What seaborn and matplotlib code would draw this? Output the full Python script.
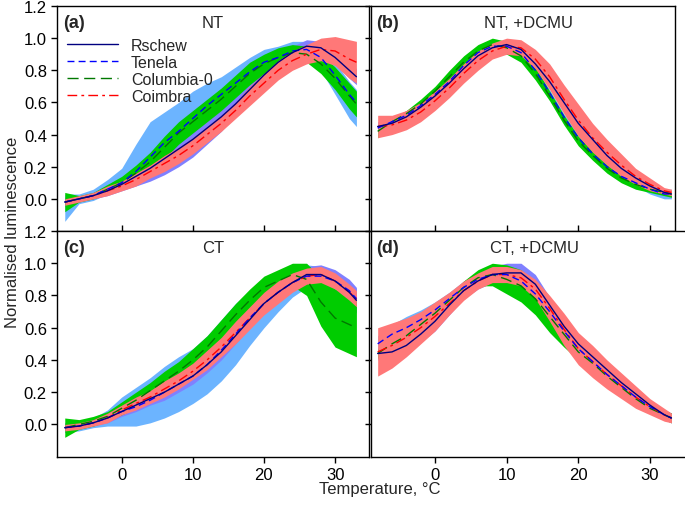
import numpy as np
import pandas as pd
import matplotlib
matplotlib.use("Agg")
import matplotlib.pyplot as plt
from matplotlib.lines import Line2D
import seaborn as sns

temps = [-8, -6, -4, -2, 0, 2, 4, 6, 8, 10, 12, 14, 16, 18, 20, 22, 24, 26, 28, 30, 32, 33]
accessions = ["Rschew", "Tenela", "Columbia-0", "Coimbra"]

# (a) NT
nt_rschew = [-0.02, 0.00, 0.02, 0.05, 0.09, 0.14, 0.19, 0.25, 0.31, 0.37, 0.44, 0.51, 0.59, 0.68, 0.77, 0.85, 0.91, 0.95, 0.94, 0.88, 0.80, 0.76]
nt_rschew_sd = [0.03, 0.02, 0.02, 0.03, 0.04, 0.06, 0.08, 0.10, 0.11, 0.11, 0.10, 0.09, 0.07, 0.06, 0.05, 0.04, 0.04, 0.04, 0.04, 0.04, 0.05, 0.05]
nt_tenela = [-0.02, 0.00, 0.02, 0.06, 0.10, 0.17, 0.26, 0.35, 0.42, 0.50, 0.58, 0.65, 0.72, 0.79, 0.85, 0.88, 0.92, 0.93, 0.88, 0.77, 0.65, 0.60]
nt_tenela_up = [0.05, 0.03, 0.04, 0.06, 0.09, 0.17, 0.22, 0.19, 0.18, 0.17, 0.14, 0.11, 0.10, 0.09, 0.08, 0.07, 0.06, 0.05, 0.07, 0.08, 0.08, 0.08]
nt_tenela_dn = [0.12, 0.03, 0.03, 0.03, 0.04, 0.05, 0.06, 0.07, 0.08, 0.08, 0.08, 0.08, 0.08, 0.07, 0.07, 0.06, 0.06, 0.06, 0.08, 0.12, 0.15, 0.15]
nt_columbia = [-0.02, 0.00, 0.02, 0.06, 0.10, 0.16, 0.23, 0.32, 0.41, 0.48, 0.55, 0.62, 0.70, 0.78, 0.84, 0.88, 0.91, 0.90, 0.84, 0.75, 0.64, 0.59]
nt_columbia_sd = [0.06, 0.02, 0.02, 0.03, 0.04, 0.05, 0.06, 0.07, 0.07, 0.07, 0.07, 0.07, 0.07, 0.07, 0.06, 0.06, 0.05, 0.05, 0.06, 0.07, 0.08, 0.08]
nt_coimbra = [-0.02, 0.00, 0.02, 0.05, 0.08, 0.12, 0.17, 0.22, 0.27, 0.33, 0.40, 0.47, 0.55, 0.64, 0.72, 0.80, 0.86, 0.90, 0.93, 0.92, 0.87, 0.85]
nt_coimbra_sd = [0.02, 0.02, 0.02, 0.03, 0.03, 0.04, 0.04, 0.05, 0.05, 0.05, 0.05, 0.05, 0.05, 0.06, 0.06, 0.06, 0.06, 0.06, 0.07, 0.09, 0.12, 0.13]

# (b) NT, +DCMU
ntd_rschew = [0.45, 0.47, 0.51, 0.57, 0.64, 0.72, 0.81, 0.89, 0.94, 0.96, 0.93, 0.84, 0.73, 0.60, 0.47, 0.37, 0.27, 0.19, 0.13, 0.08, 0.04, 0.03]
ntd_rschew_sd = [0.03, 0.02, 0.02, 0.02, 0.02, 0.02, 0.02, 0.02, 0.02, 0.02, 0.02, 0.02, 0.02, 0.02, 0.02, 0.02, 0.02, 0.02, 0.02, 0.02, 0.02, 0.02]
ntd_tenela = [0.44, 0.48, 0.52, 0.58, 0.65, 0.73, 0.83, 0.91, 0.95, 0.95, 0.91, 0.80, 0.66, 0.51, 0.38, 0.28, 0.20, 0.14, 0.10, 0.06, 0.03, 0.03]
ntd_tenela_sd = [0.03, 0.02, 0.02, 0.02, 0.02, 0.02, 0.02, 0.02, 0.02, 0.02, 0.02, 0.02, 0.02, 0.02, 0.02, 0.02, 0.02, 0.02, 0.02, 0.03, 0.03, 0.03]
ntd_columbia = [0.42, 0.48, 0.53, 0.59, 0.67, 0.76, 0.85, 0.92, 0.96, 0.94, 0.89, 0.78, 0.64, 0.49, 0.36, 0.27, 0.19, 0.13, 0.09, 0.06, 0.04, 0.03]
ntd_columbia_sd = [0.04, 0.02, 0.02, 0.03, 0.03, 0.04, 0.04, 0.04, 0.04, 0.04, 0.04, 0.04, 0.03, 0.03, 0.03, 0.03, 0.03, 0.03, 0.03, 0.02, 0.02, 0.02]
ntd_coimbra = [0.45, 0.46, 0.49, 0.54, 0.61, 0.69, 0.78, 0.86, 0.92, 0.95, 0.94, 0.87, 0.76, 0.62, 0.49, 0.38, 0.29, 0.21, 0.14, 0.09, 0.05, 0.04]
ntd_coimbra_sd = [0.07, 0.06, 0.06, 0.06, 0.06, 0.06, 0.06, 0.06, 0.05, 0.05, 0.05, 0.06, 0.08, 0.09, 0.10, 0.09, 0.08, 0.07, 0.05, 0.04, 0.02, 0.02]

# (c) CT
ct_rschew = [-0.02, -0.01, 0.01, 0.04, 0.08, 0.12, 0.16, 0.20, 0.25, 0.30, 0.37, 0.45, 0.55, 0.65, 0.75, 0.82, 0.88, 0.93, 0.93, 0.89, 0.82, 0.77]
ct_rschew_sd = [0.03, 0.02, 0.02, 0.03, 0.03, 0.04, 0.04, 0.05, 0.05, 0.05, 0.05, 0.05, 0.05, 0.05, 0.05, 0.05, 0.05, 0.05, 0.06, 0.07, 0.08, 0.08]
ct_tenela = [-0.02, -0.01, 0.01, 0.04, 0.08, 0.11, 0.15, 0.20, 0.25, 0.30, 0.37, 0.46, 0.56, 0.66, 0.75, 0.82, 0.88, 0.92, 0.92, 0.89, 0.83, 0.78]
ct_tenela_sd = [0.03, 0.03, 0.03, 0.05, 0.09, 0.12, 0.14, 0.16, 0.17, 0.17, 0.18, 0.19, 0.19, 0.17, 0.15, 0.12, 0.09, 0.07, 0.06, 0.06, 0.06, 0.06]
ct_columbia = [-0.02, 0.00, 0.02, 0.05, 0.10, 0.15, 0.21, 0.27, 0.33, 0.40, 0.48, 0.58, 0.68, 0.77, 0.85, 0.89, 0.93, 0.90, 0.76, 0.66, 0.62, 0.60]
ct_columbia_sd = [0.06, 0.03, 0.03, 0.03, 0.04, 0.05, 0.05, 0.06, 0.06, 0.07, 0.07, 0.07, 0.07, 0.07, 0.07, 0.07, 0.07, 0.10, 0.15, 0.18, 0.18, 0.18]
ct_coimbra = [-0.02, -0.01, 0.01, 0.04, 0.09, 0.13, 0.17, 0.22, 0.27, 0.33, 0.40, 0.48, 0.57, 0.66, 0.75, 0.82, 0.88, 0.92, 0.93, 0.89, 0.82, 0.78]
ct_coimbra_sd = [0.02, 0.02, 0.02, 0.03, 0.03, 0.04, 0.04, 0.05, 0.05, 0.05, 0.06, 0.06, 0.07, 0.07, 0.07, 0.07, 0.06, 0.05, 0.05, 0.05, 0.05, 0.05]

# (d) CT, +DCMU
ctd_rschew = [0.44, 0.45, 0.49, 0.56, 0.64, 0.74, 0.83, 0.89, 0.93, 0.94, 0.94, 0.87, 0.74, 0.61, 0.50, 0.42, 0.34, 0.26, 0.19, 0.12, 0.06, 0.04]
ctd_rschew_sd = [0.04, 0.04, 0.04, 0.05, 0.06, 0.06, 0.05, 0.05, 0.05, 0.06, 0.06, 0.06, 0.05, 0.04, 0.04, 0.04, 0.04, 0.03, 0.03, 0.03, 0.03, 0.03]
ctd_tenela = [0.50, 0.56, 0.60, 0.65, 0.71, 0.78, 0.85, 0.90, 0.93, 0.93, 0.89, 0.81, 0.70, 0.58, 0.47, 0.39, 0.31, 0.24, 0.17, 0.11, 0.06, 0.04]
ctd_tenela_sd = [0.05, 0.06, 0.07, 0.06, 0.05, 0.04, 0.04, 0.04, 0.04, 0.04, 0.04, 0.04, 0.04, 0.04, 0.03, 0.03, 0.03, 0.03, 0.03, 0.03, 0.03, 0.03]
ctd_columbia = [0.44, 0.50, 0.55, 0.62, 0.69, 0.77, 0.85, 0.91, 0.93, 0.90, 0.86, 0.78, 0.67, 0.56, 0.45, 0.38, 0.30, 0.23, 0.16, 0.10, 0.06, 0.04]
ctd_columbia_sd = [0.03, 0.03, 0.03, 0.03, 0.03, 0.03, 0.04, 0.05, 0.07, 0.09, 0.10, 0.10, 0.10, 0.08, 0.05, 0.04, 0.03, 0.03, 0.03, 0.03, 0.03, 0.03]
ctd_coimbra = [0.45, 0.49, 0.54, 0.60, 0.67, 0.75, 0.83, 0.89, 0.93, 0.93, 0.91, 0.84, 0.72, 0.59, 0.47, 0.39, 0.31, 0.24, 0.17, 0.11, 0.06, 0.04]
ctd_coimbra_sd = [0.15, 0.14, 0.12, 0.10, 0.09, 0.07, 0.06, 0.05, 0.05, 0.05, 0.05, 0.06, 0.08, 0.10, 0.10, 0.10, 0.09, 0.08, 0.07, 0.05, 0.04, 0.03]

panel_letters = ["(a)", "(b)", "(c)", "(d)"]
panel_titles = ["NT", "NT, +DCMU", "CT", "CT, +DCMU"]

line_colors = {"Rschew": "#000080", "Tenela": "#0000ff", "Columbia-0": "#007800", "Coimbra": "#ff0000"}
band_colors = {"Rschew": "#8080ff", "Tenela": "#6cb4ff", "Columbia-0": "#00cc00", "Coimbra": "#ff7878"}
line_dashes = {"Rschew": "", "Tenela": (5, 3), "Columbia-0": (8, 4), "Coimbra": (7, 3, 2, 3)}

# each entry: (mean, spread below, spread above)
panels = [
    {"Rschew": (nt_rschew, nt_rschew_sd, nt_rschew_sd), "Tenela": (nt_tenela, nt_tenela_dn, nt_tenela_up),
     "Columbia-0": (nt_columbia, nt_columbia_sd, nt_columbia_sd), "Coimbra": (nt_coimbra, nt_coimbra_sd, nt_coimbra_sd)},
    {"Rschew": (ntd_rschew, ntd_rschew_sd, ntd_rschew_sd), "Tenela": (ntd_tenela, ntd_tenela_sd, ntd_tenela_sd),
     "Columbia-0": (ntd_columbia, ntd_columbia_sd, ntd_columbia_sd), "Coimbra": (ntd_coimbra, ntd_coimbra_sd, ntd_coimbra_sd)},
    {"Rschew": (ct_rschew, ct_rschew_sd, ct_rschew_sd), "Tenela": (ct_tenela, ct_tenela_sd, ct_tenela_sd),
     "Columbia-0": (ct_columbia, ct_columbia_sd, ct_columbia_sd), "Coimbra": (ct_coimbra, ct_coimbra_sd, ct_coimbra_sd)},
    {"Rschew": (ctd_rschew, ctd_rschew_sd, ctd_rschew_sd), "Tenela": (ctd_tenela, ctd_tenela_sd, ctd_tenela_sd),
     "Columbia-0": (ctd_columbia, ctd_columbia_sd, ctd_columbia_sd), "Coimbra": (ctd_coimbra, ctd_coimbra_sd, ctd_coimbra_sd)},
]

sns.set_theme(style="ticks")
plt.rcParams['font.family'] = ['Liberation Sans', 'DejaVu Sans']
plt.rcParams['axes.linewidth'] = 1.0

fig = plt.figure(figsize=(6.85, 5.06), dpi=100)
W, H = 685.0, 506.0
# axes boxes in pixels: left, top, right, bottom
boxes = [(57.3, 7, 368.5, 232), (370.5, 7, 675, 232),
         (57.3, 232, 368.5, 457.7), (370.5, 232, 686.5, 457.7)]
axes = []
for (l, t, r, b) in boxes:
    axes.append(fig.add_axes([l / W, 1 - b / H, (r - l) / W, (b - t) / H]))

band_order = ["Tenela", "Rschew", "Columbia-0", "Coimbra"]
line_order = ["Columbia-0", "Coimbra", "Tenela", "Rschew"]

for i, ax in enumerate(axes):
    data = panels[i]
    for name in band_order:
        m = np.array(data[name][0])
        lo = np.array(data[name][1])
        hi = np.array(data[name][2])
        ax.fill_between(temps, m - lo, m + hi, color=band_colors[name], lw=0, zorder=1)

    rows = []
    for name in accessions:
        for t, v in zip(temps, data[name][0]):
            rows.append({"T": t, "val": v, "acc": name})
    df = pd.DataFrame(rows)
    sns.lineplot(data=df, x="T", y="val", hue="acc", style="acc", hue_order=line_order,
                 style_order=line_order, palette=line_colors, dashes=line_dashes,
                 estimator=None, errorbar=None, linewidth=1.0, legend=False, ax=ax, zorder=3)

    left = i % 2 == 0
    top = i < 2
    ax.set_ylim(-0.2, 1.2)
    if left:
        ax.set_xlim(-9.05, 34.7)
    else:
        ax.set_xlim(-9.0, 33.5 if top else 35.1)
    ax.set_xticks([0, 10, 20, 30])
    ax.set_yticks([0.0, 0.2, 0.4, 0.6, 0.8, 1.0, 1.2])
    ax.set_xlabel("")
    ax.set_ylabel("")
    for sp in ax.spines.values():
        sp.set_visible(True)
        sp.set_color("black")
    ax.tick_params(axis="y", direction="out", length=4, width=1, labelsize=12, colors="black")
    ax.tick_params(axis="x", direction="in" if top else "out", length=4, width=1,
                   labelsize=12, colors="black")
    if not left:
        ax.set_yticklabels([])
    else:
        ax.set_yticklabels([f"{v:.1f}" for v in ax.get_yticks()])
    if top:
        ax.set_xticklabels([])

    ax.text(0.018, 0.925, panel_letters[i], transform=ax.transAxes, fontsize=13,
            fontweight="bold", ha="left", va="center")
    ax.text(0.5 if left else 0.52, 0.925, panel_titles[i], transform=ax.transAxes,
            fontsize=12, ha="center", va="center")

handles = [Line2D([], [], color=line_colors[n], lw=1.0,
                  dashes=line_dashes[n] if line_dashes[n] else (None, None)) for n in accessions]
handles[0] = Line2D([], [], color=line_colors["Rschew"], lw=1.0)
axes[0].legend(handles, accessions, loc="upper left", bbox_to_anchor=(0.0, 0.9),
               frameon=False, fontsize=11.5, handlelength=3.2, handletextpad=0.8,
               labelspacing=0.12, borderaxespad=0.2)

fig.text(0.018, 1 - 232 / H, "Normalised luminescence", rotation=90, fontsize=12,
         ha="center", va="center")
fig.text(380 / W, 1 - 490 / H, "Temperature, °C", fontsize=12, ha="center", va="center")

fig.savefig("out.png", dpi=100)
